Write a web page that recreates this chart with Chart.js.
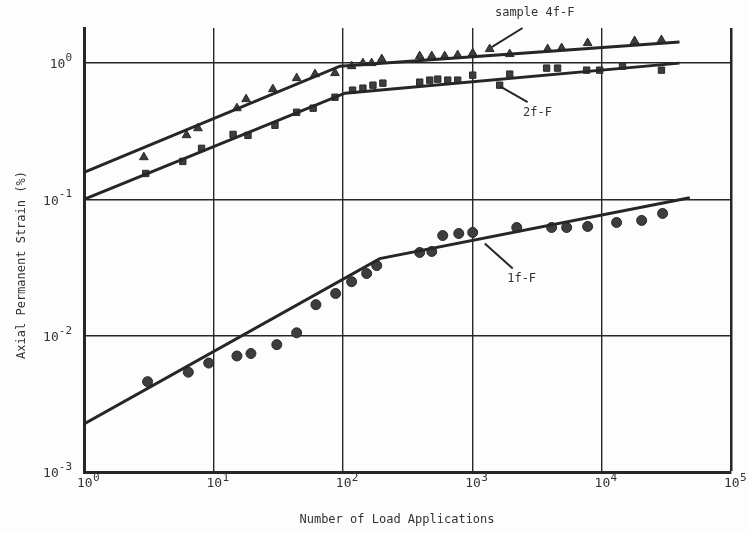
<!DOCTYPE html>
<html>
<head>
<meta charset="utf-8">
<script src="https://cdn.jsdelivr.net/npm/chart.js@4"></script>
<style>
  html, body { margin: 0; padding: 0; background: #ffffff; }
  canvas { display: block; }
</style>
</head>
<body>
<canvas id="strain_chart" width="749" height="533"></canvas>
<script>
// decade ticks
let xTicks = [1, 10, 100, 1000, 10000, 100000];
let yTicks = [0.001, 0.01, 0.1, 1];

// sample 4f-F (triangles)
let n4f = [2.9, 6.2, 7.6, 15.2, 17.9, 28.8, 44, 61, 87, 117, 143, 167, 200, 393, 487, 613, 772, 1009, 1365, 1950, 3830, 4910, 7800, 18000, 29000];
let s4f = [0.204, 0.296, 0.333, 0.467, 0.544, 0.644, 0.776, 0.83, 0.845, 0.95, 1.0, 1.0, 1.07, 1.126, 1.126, 1.126, 1.145, 1.184, 1.268, 1.165, 1.268, 1.289, 1.403, 1.452, 1.476];

// 2f-F (squares)
let n2f = [3.0, 5.8, 8.1, 14.2, 18.5, 29.9, 44, 59, 87, 119, 143, 171, 204, 393, 470, 542, 647, 772, 1009, 1630, 1950, 3760, 4570, 7660, 9660, 14500, 29000];
let s2f = [0.155, 0.19, 0.237, 0.30, 0.295, 0.35, 0.436, 0.467, 0.562, 0.633, 0.655, 0.689, 0.713, 0.725, 0.75, 0.763, 0.75, 0.75, 0.816, 0.689, 0.83, 0.919, 0.919, 0.888, 0.888, 0.95, 0.888];

// 1f-F (circles)
let n1f = [3.1, 6.4, 9.2, 15.2, 19.5, 30.9, 44, 62, 88, 117, 153, 183, 393, 487, 592, 787, 1009, 2210, 4110, 5370, 7800, 13060, 20400, 29600];
let s1f = [0.0046, 0.0054, 0.0063, 0.0071, 0.0074, 0.0086, 0.0105, 0.0169, 0.0204, 0.0249, 0.0286, 0.0327, 0.0408, 0.0415, 0.0543, 0.0562, 0.0572, 0.0622, 0.0622, 0.0622, 0.0633, 0.0677, 0.0701, 0.0789];

// fitted lines (two straight pieces each on log-log)
let fit4fN = [1, 95, 40000];
let fit4fS = [0.158, 0.95, 1.43];
let fit2fN = [1, 104, 40000];
let fit2fS = [0.1, 0.602, 1.0];
let fit1fN = [1, 193, 48000];
let fit1fS = [0.00225, 0.0368, 0.103];

// curve labels: text position and leader line, in data units
let labelText = ['sample 4f-F', '2f-F', '1f-F'];
let labelN = [3040, 3200, 2410];
let labelS = [2.33, 0.429, 0.0262];
let leaderFromN = [2450, 2680, 2055];
let leaderFromS = [1.81, 0.517, 0.0311];
let leaderToN = [1415, 1630, 1250];
let leaderToS = [1.31, 0.677, 0.0475];

function pts(xs, ys) {
    return xs.map(function (x, i) { return { x: x, y: ys[i] }; });
}

const ink = '#262626';
const mono = '"DejaVu Sans Mono", "Liberation Mono", monospace';

// superscript tick labels, axis titles and the curve labels
const paperPlugin = {
    id: 'paper',
    beforeDraw(chart) {
        let c = chart.ctx;
        c.save();
        c.fillStyle = '#fdfdfd';
        c.fillRect(0, 0, chart.width, chart.height);
        c.restore();
    },
    afterDraw(chart) {
        let c = chart.ctx;
        let xs = chart.scales.x;
        let ys = chart.scales.y;
        c.save();
        c.fillStyle = '#333333';
        c.textBaseline = 'middle';

        // y ticks
        yTicks.forEach(function (v) {
            let py = ys.getPixelForValue(v);
            let exp = String(Math.round(Math.log10(v)));
            c.font = '11px ' + mono;
            c.textAlign = 'right';
            let expW = c.measureText(exp).width;
            c.font = '13px ' + mono;
            c.fillText('10', 72 - expW, py + 2);
            c.font = '11px ' + mono;
            c.textAlign = 'left';
            c.fillText(exp, 72 - expW, py - 5);
        });

        // x ticks
        xTicks.forEach(function (v) {
            let px = xs.getPixelForValue(v);
            let exp = String(Math.round(Math.log10(v)));
            c.font = '13px ' + mono;
            c.textAlign = 'left';
            c.fillText('10', px - 7, chart.chartArea.bottom + 12);
            c.font = '11px ' + mono;
            c.fillText(exp, px + 9, chart.chartArea.bottom + 6);
        });

        // axis titles
        c.font = '12px ' + mono;
        c.textAlign = 'center';
        c.fillText('Number of Load Applications', 397, 520);
        c.save();
        c.translate(22, 265);
        c.rotate(-Math.PI / 2);
        c.fillText('Axial Permanent Strain (%)', 0, 0);
        c.restore();

        // curve labels with leader lines
        c.strokeStyle = ink;
        c.lineWidth = 2;
        labelText.forEach(function (t, i) {
            c.font = '12px ' + mono;
            c.textAlign = 'center';
            c.fillText(t, xs.getPixelForValue(labelN[i]), ys.getPixelForValue(labelS[i]));
            c.beginPath();
            c.moveTo(xs.getPixelForValue(leaderFromN[i]), ys.getPixelForValue(leaderFromS[i]));
            c.lineTo(xs.getPixelForValue(leaderToN[i]), ys.getPixelForValue(leaderToS[i]));
            c.stroke();
        });
        c.restore();
    }
};

function fitLine(xs, ys) {
    return {
        type: 'line',
        data: pts(xs, ys),
        borderColor: ink,
        borderWidth: 3,
        pointRadius: 0,
        fill: false,
        tension: 0
    };
}

function markers(xs, ys, style, r) {
    return {
        type: 'scatter',
        data: pts(xs, ys),
        pointStyle: style,
        pointRadius: r,
        backgroundColor: '#3d3d3d',
        borderColor: '#2a2a2a',
        borderWidth: 1
    };
}

let ctx = document.getElementById('strain_chart').getContext('2d');
let strain_chart = new Chart(ctx, {
    type: 'scatter',
    data: {
        datasets: [
            fitLine(fit4fN, fit4fS),
            fitLine(fit2fN, fit2fS),
            fitLine(fit1fN, fit1fS),
            markers(n4f, s4f, 'triangle', 5),
            markers(n2f, s2f, 'rect', 4.5),
            markers(n1f, s1f, 'circle', 5)
        ]
    },
    options: {
        responsive: false,
        animation: false,
        layout: {
            padding: { left: 84, right: 18, top: 28, bottom: 61 }
        },
        plugins: {
            legend: { display: false },
            tooltip: { enabled: false }
        },
        scales: {
            x: {
                type: 'logarithmic',
                min: 1,
                max: 100000,
                afterBuildTicks: function (scale) {
                    scale.ticks = xTicks.map(function (v) { return { value: v }; });
                },
                ticks: { display: false },
                grid: {
                    color: ink,
                    lineWidth: function (c) { return c.tick && c.tick.value === 100000 ? 2.5 : 1.4; },
                    drawTicks: false
                },
                border: { display: true, color: ink, width: 3 }
            },
            y: {
                type: 'logarithmic',
                min: 0.001,
                max: 1.81,
                afterBuildTicks: function (scale) {
                    scale.ticks = yTicks.map(function (v) { return { value: v }; });
                },
                ticks: { display: false },
                grid: {
                    color: ink,
                    lineWidth: 1.4,
                    drawTicks: false
                },
                border: { display: true, color: ink, width: 3 }
            }
        }
    },
    plugins: [paperPlugin]
});
</script>
</body>
</html>
